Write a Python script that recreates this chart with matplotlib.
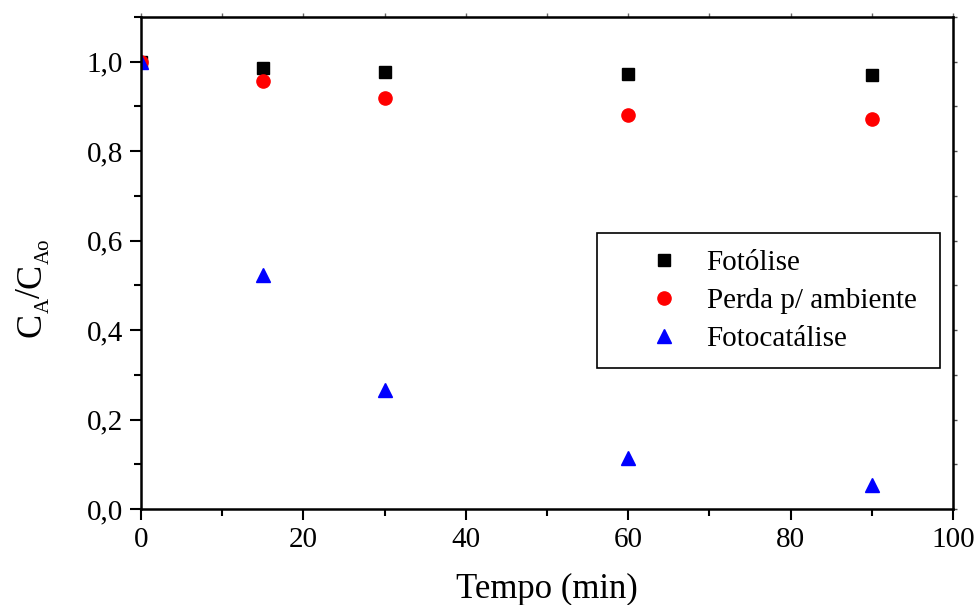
import matplotlib.pyplot as plt
from matplotlib.ticker import MultipleLocator, FuncFormatter

# data
tempo = [0, 15, 30, 60, 90]
fotolise = [1.0, 0.986, 0.977, 0.972, 0.970]
perda = [1.0, 0.956, 0.918, 0.880, 0.871]
fotocatalise = [1.0, 0.524, 0.265, 0.115, 0.053]

plt.rcParams['font.family'] = ['Liberation Serif', 'DejaVu Serif']

W, H = 975, 605
fig = plt.figure(figsize=(W / 100, H / 100), dpi=100)
ax = fig.add_axes([0.1446, 0.1587, 0.8328, 0.8132])

ax.plot(tempo, fotolise, 's', color='black', ms=8.5, ls='none', label='Fotólise')
ax.plot(tempo, perda, 'o', color='red', ms=9.5, ls='none', label='Perda p/ ambiente')
ax.plot(tempo, fotocatalise, '^', color='blue', ms=10, ls='none', label='Fotocatálise')

ax.set_xlim(0, 100)
ax.set_ylim(0, 1.1)
ax.xaxis.set_major_locator(MultipleLocator(20))
ax.xaxis.set_minor_locator(MultipleLocator(10))
ax.yaxis.set_major_locator(MultipleLocator(0.2))
ax.yaxis.set_minor_locator(MultipleLocator(0.1))
ax.yaxis.set_major_formatter(FuncFormatter(lambda v, p: f'{v:.1f}'.replace('.', ',')))

ax.tick_params(which='both', direction='out', labelsize=21, width=1.5)
ax.tick_params(which='major', length=8, pad=5)
ax.tick_params(which='minor', length=5)
for s in ax.spines.values():
    s.set_linewidth(1.8)

# small mirror ticks on top and right
top = ax.secondary_xaxis('top')
top.xaxis.set_major_locator(MultipleLocator(20))
top.xaxis.set_minor_locator(MultipleLocator(10))
top.tick_params(which='both', direction='out', length=3, width=1, labeltop=False, color='0.4')
right = ax.secondary_yaxis('right')
right.yaxis.set_major_locator(MultipleLocator(0.2))
right.yaxis.set_minor_locator(MultipleLocator(0.1))
right.tick_params(which='both', direction='out', length=3, width=1, labelright=False, color='0.3')

ax.set_xlabel('Tempo (min)', fontsize=25, labelpad=14)

# y label C_A/C_Ao built from pieces (Origin-style small, lowered subscripts)
renderer = fig.canvas.get_renderer()
parts = [('C', 26, 0), ('A', 15, 9), ('/', 26, 0), ('C', 26, 0), ('Ao', 15, 9)]
base_x = 40
cur = H - 337
for s, size, drop in parts:
    t = fig.text((base_x + drop) / W, cur / H, s, fontsize=size, rotation=90,
                 rotation_mode='anchor', ha='left', va='baseline')
    cur += t.get_window_extent(renderer).height

leg = ax.legend(loc='upper left', bbox_to_anchor=(0.5616, 0.3, 0.4224, 0.261),
                mode='expand', fontsize=21,
                fancybox=False, edgecolor='black', framealpha=1,
                handletextpad=-0.3, borderpad=0.56, labelspacing=0.4,
                handlelength=3.5, borderaxespad=0)
leg.get_frame().set_linewidth(1.2)

plt.savefig('out.png', dpi=100)
